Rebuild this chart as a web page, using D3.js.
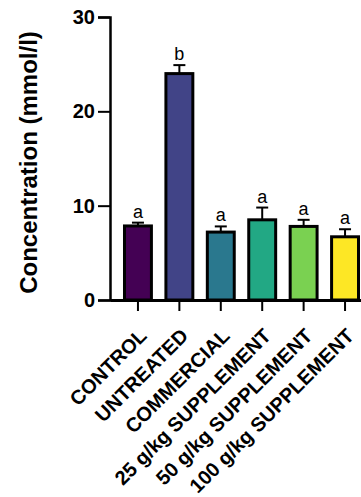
<!DOCTYPE html>
<html>
<head>
<meta charset="utf-8">
<script src="https://cdn.jsdelivr.net/npm/d3@7"></script>
<style>
  html, body { margin: 0; padding: 0; background: #fff; }
  svg { display: block; font-family: "Liberation Sans", Arial, sans-serif; }
</style>
</head>
<body>
<svg id="chart" width="361" height="497"></svg>
<script>
// Group names, means, upper error (mean + SEM), significance letters
const groups = ["CONTROL", "UNTREATED", "COMMERCIAL", "25 g/kg SUPPLEMENT", "50 g/kg SUPPLEMENT", "100 g/kg SUPPLEMENT"];
const means = [7.85, 24.0, 7.2, 8.5, 7.8, 6.7];
const errors = [0.35, 0.9, 0.6, 1.3, 0.7, 0.8];
const letters = ["a", "b", "a", "a", "a", "a"];
const colors = ["#440154", "#414487", "#2a788e", "#22a884", "#7ad151", "#fde725"];
const yTicks = [0, 10, 20, 30];

const svg = d3.select("#chart");
const x0 = 110, yBase = 300, yTop = 17;

const x = d3.scaleBand()
  .domain(groups)
  .range([x0, 373])
  .paddingInner(0.35)
  .paddingOuter(0.35);

const y = d3.scaleLinear().domain([0, 30]).range([yBase, yTop]);

// bars
svg.append("g").selectAll("rect")
  .data(groups)
  .join("rect")
  .attr("x", d => x(d))
  .attr("width", x.bandwidth())
  .attr("y", (d, i) => y(means[i]))
  .attr("height", (d, i) => y(0) - y(means[i]))
  .attr("fill", (d, i) => colors[i])
  .attr("stroke", "#000")
  .attr("stroke-width", 3);

// error bars (upper only)
const eb = svg.append("g").attr("stroke", "#000").attr("stroke-width", 2);
groups.forEach((g, i) => {
  const cx = x(g) + x.bandwidth() / 2;
  eb.append("line").attr("x1", cx).attr("x2", cx)
    .attr("y1", y(means[i])).attr("y2", y(means[i] + errors[i]));
  eb.append("line").attr("x1", cx - 6).attr("x2", cx + 6)
    .attr("y1", y(means[i] + errors[i])).attr("y2", y(means[i] + errors[i]));
});

// significance letters
svg.append("g").selectAll("text")
  .data(groups)
  .join("text")
  .attr("x", d => x(d) + x.bandwidth() / 2)
  .attr("y", (d, i) => y(means[i] + errors[i]) - 5)
  .attr("text-anchor", "middle")
  .attr("font-size", 18)
  .text((d, i) => letters[i]);

// y axis
const yAxis = svg.append("g")
  .attr("transform", `translate(${x0},0)`)
  .call(d3.axisLeft(y).tickValues(yTicks).tickSize(12).tickPadding(3));
yAxis.select(".domain").attr("stroke-width", 2.5);
yAxis.selectAll(".tick line").attr("stroke-width", 2);
yAxis.selectAll(".tick text")
  .attr("font-size", 20).attr("font-weight", "bold").attr("fill", "#000")
  .attr("font-family", "Liberation Sans, Arial, sans-serif");

// x axis
const xAxis = svg.append("g")
  .attr("transform", `translate(0,${yBase})`)
  .call(d3.axisBottom(x).tickSize(11).tickSizeOuter(0).tickPadding(4));
xAxis.select(".domain").attr("stroke-width", 3);
xAxis.selectAll(".tick line").attr("stroke-width", 2);
xAxis.selectAll(".tick text")
  .attr("font-size", 20).attr("font-weight", "bold").attr("fill", "#000")
  .attr("font-family", "Liberation Sans, Arial, sans-serif")
  .attr("text-anchor", "end")
  .attr("y", 0)
  .attr("dy", 0)
  .attr("transform", "translate(10,37) rotate(-45)");

// y axis title
svg.append("text")
  .attr("transform", `translate(37,${(yTop + yBase) / 2 + 4}) rotate(-90)`)
  .attr("text-anchor", "middle")
  .attr("font-size", 24)
  .attr("font-weight", "bold")
  .text("Concentration (mmol/l)");
</script>
</body>
</html>
